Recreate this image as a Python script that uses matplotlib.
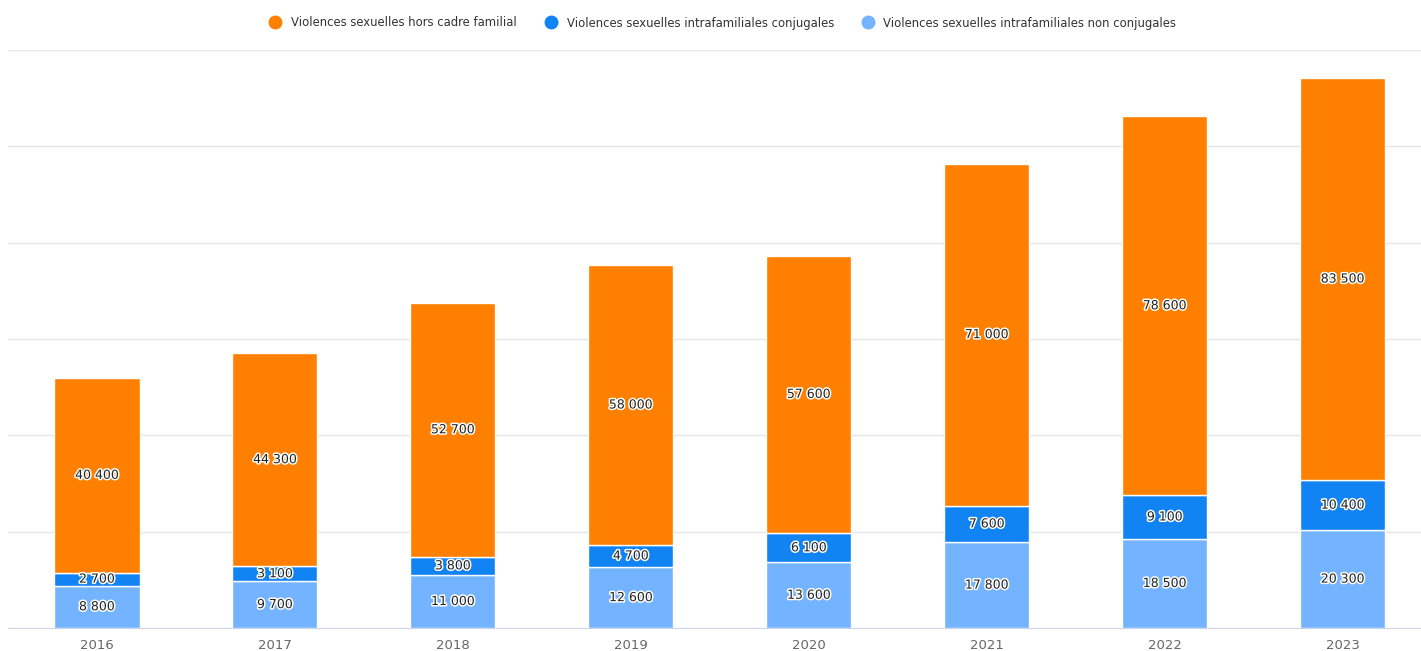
import matplotlib.pyplot as plt
import matplotlib.patheffects as pe
from matplotlib.lines import Line2D

years = ['2016', '2017', '2018', '2019', '2020', '2021', '2022', '2023']
non_conjugales = [8800, 9700, 11000, 12600, 13600, 17800, 18500, 20300]
conjugales = [2700, 3100, 3800, 4700, 6100, 7600, 9100, 10400]
hors_cadre = [40400, 44300, 52700, 58000, 57600, 71000, 78600, 83500]

c_orange = '#ff8000'
c_blue = '#1283f2'
c_light = '#74b3ff'

def fmt(v):
    return f'{v:,}'.replace(',', ' ')

fig = plt.figure(figsize=(14.21, 6.51), dpi=100)
ax = fig.add_axes([8 / 1421, 1 - 628 / 651, 1 - 8 / 1421, (628 - 50) / 651])

x = list(range(len(years)))
w = 0.478
b1 = ax.bar(x, non_conjugales, w, color=c_light, edgecolor='white', linewidth=1, zorder=3)
b2 = ax.bar(x, conjugales, w, bottom=non_conjugales, color=c_blue, edgecolor='white', linewidth=1, zorder=3)
bottom3 = [a + b for a, b in zip(non_conjugales, conjugales)]
b3 = ax.bar(x, hors_cadre, w, bottom=bottom3, color=c_orange, edgecolor='white', linewidth=1, zorder=3)

stroke = [pe.withStroke(linewidth=2.2, foreground='white')]
for bars, vals in ((b1, non_conjugales), (b2, conjugales), (b3, hors_cadre)):
    for r, v in zip(bars, vals):
        ax.text(r.get_x() + r.get_width() / 2, r.get_y() + r.get_height() / 2, fmt(v),
                ha='center', va='center', fontsize=9, color='#222222',
                path_effects=stroke, zorder=5)

ax.set_xlim(-0.5, 7.44)
ax.set_ylim(0, 120000)
ax.set_yticks(range(0, 120001, 20000))
ax.set_yticklabels([])
ax.tick_params(axis='y', length=0)
ax.grid(axis='y', color='#e6e6e6', linewidth=1, zorder=0)
ax.set_xticks(x)
ax.set_xticklabels(years, fontsize=9.5, color='#666666')
ax.tick_params(axis='x', length=0, pad=8)
for s in ('top', 'right', 'left'):
    ax.spines[s].set_visible(False)
ax.spines['bottom'].set_color('#ccd6eb')
ax.spines['bottom'].set_zorder(4)

handles = [Line2D([], [], marker='o', linestyle='', markersize=9, color=c)
           for c in (c_orange, c_blue, c_light)]
labels = ['Violences sexuelles hors cadre familial',
          'Violences sexuelles intrafamiliales conjugales',
          'Violences sexuelles intrafamiliales non conjugales']
fig.legend(handles, labels, loc='center', bbox_to_anchor=(720 / 1421, 1 - 23 / 651),
           ncol=3, frameon=False, fontsize=8.4, handletextpad=0.35, columnspacing=1.9,
           labelcolor='#333333')

fig.savefig('out.png', dpi=100)
